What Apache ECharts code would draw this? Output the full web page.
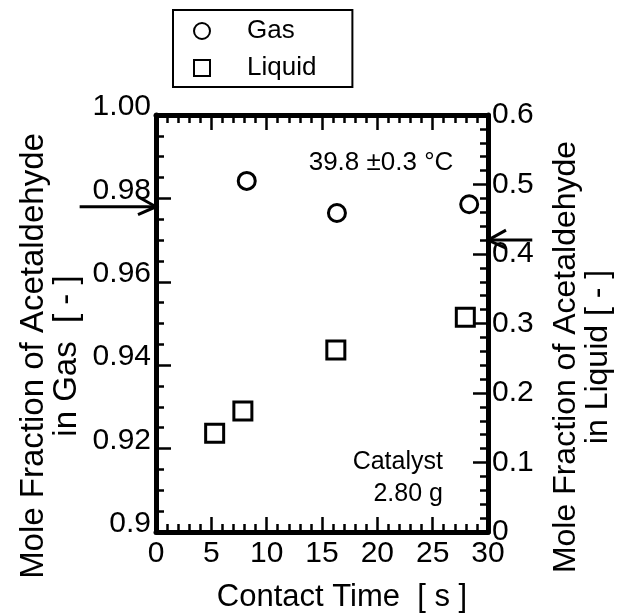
<!DOCTYPE html>
<html><head><meta charset="utf-8">
<script src="https://cdn.jsdelivr.net/npm/echarts@6/dist/echarts.min.js"></script>
<style>html,body{margin:0;padding:0;background:#fff}#c{width:629px;height:615px}</style>
</head><body><div id="c"></div>
<script>
// ---- data ----
const gasTime = [8.2, 16.35, 28.3];
const gasFraction = [0.9842, 0.9765, 0.9786];
const liquidTime = [5.3, 7.85, 16.25, 27.95];
const liquidFraction = [0.142, 0.174, 0.262, 0.309];
const seriesNames = ['Gas', 'Liquid'];
const xLabelTitle = 'Contact Time  [ s ]';
const leftTitle = 'Mole Fraction of Acetaldehyde\nin Gas  [ - ]';
const rightTitle = 'Mole Fraction of Acetaldehyde\nin Liquid [ - ]';
const tempText = '39.8 \u00b10.3 \u00b0C';
const catalystText = 'Catalyst\n2.80 g';
// arrows: [x start, x end, level]
const gasArrow = [-6.9, 0, 0.978];
const liquidArrow = [34.0, 30, 0.42];

const FONT = '"Liberation Sans", Arial, Helvetica, sans-serif';
const BLACK = '#000';

const chart = echarts.init(document.getElementById('c'), null, {renderer: 'canvas'});

function tickStyle(len, minorLen, minorSplit) {
  return {
    axisTick: {show: true, inside: true, length: len, lineStyle: {color: BLACK, width: 2.5}},
    minorTick: {show: true, splitNumber: minorSplit, length: minorLen, lineStyle: {color: BLACK, width: 2.5}},
    splitLine: {show: false},
    minorSplitLine: {show: false},
    axisLine: {show: true, onZero: false, lineStyle: {color: BLACK, width: 5}}
  };
}

const option = {
  backgroundColor: '#fff',
  animation: false,
  grid: {left: 156, right: 141, top: 115, bottom: 83, containLabel: false},
  legend: {
    data: seriesNames,
    orient: 'vertical',
    left: 173, top: 10,
    padding: [8, 36, 6, 20],
    itemGap: 11,
    itemWidth: 16, itemHeight: 16,
    borderColor: BLACK, borderWidth: 2, borderRadius: 0,
    textStyle: {fontFamily: FONT, fontSize: 26, lineHeight: 26, color: BLACK, padding: [0, 0, 0, 32]}
  },
  xAxis: [
    Object.assign({
      type: 'value', position: 'bottom', min: 0, max: 30, interval: 5,
      axisLabel: {fontFamily: FONT, fontSize: 30, color: BLACK, margin: 7}
    }, tickStyle(15, 8, 5)),
    Object.assign({
      type: 'value', position: 'top', min: 0, max: 30, interval: 5,
      axisLabel: {show: false}
    }, tickStyle(15, 8, 5))
  ],
  yAxis: [
    Object.assign({
      type: 'value', position: 'left', min: 0.9, max: 1.0, interval: 0.02,
      axisLabel: {
        fontFamily: FONT, fontSize: 30, color: BLACK, margin: 5,
        verticalAlign: 'bottom', lineHeight: 16,
        formatter: function (v) {
          if (Math.abs(v - 0.9) < 1e-9) return '0.9';
          return v.toFixed(2);
        }
      }
    }, tickStyle(15, 8, 4)),
    Object.assign({
      type: 'value', position: 'right', min: 0, max: 0.6, interval: 0.1,
      axisLabel: {
        fontFamily: FONT, fontSize: 30, color: BLACK, margin: 4,
        formatter: function (v) {
          if (Math.abs(v) < 1e-9) return '0';
          return v.toFixed(1);
        }
      }
    }, tickStyle(15, 8, 5))
  ],
  series: [
    {
      name: 'Gas', type: 'scatter', xAxisIndex: 0, yAxisIndex: 0,
      symbol: 'circle', symbolSize: 17,
      itemStyle: {color: '#fff', borderColor: BLACK, borderWidth: 3, opacity: 1},
      data: gasTime.map((t, i) => [t, gasFraction[i]])
    },
    {
      name: 'Liquid', type: 'scatter', xAxisIndex: 0, yAxisIndex: 1,
      symbol: 'rect', symbolSize: 18,
      itemStyle: {color: '#fff', borderColor: BLACK, borderWidth: 3, opacity: 1},
      data: liquidTime.map((t, i) => [t, liquidFraction[i]])
    }
  ]
};
chart.setOption(option);

function px(axisY, x, y) {
  return chart.convertToPixel({xAxisIndex: 0, yAxisIndex: axisY}, [x, y]);
}

function arrow(axisY, spec, dir) {
  const a = px(axisY, spec[0], spec[2]);
  const b = px(axisY, spec[1], spec[2]);
  const s = dir; // +1 points right, -1 points left
  return [
    {type: 'line', shape: {x1: a[0], y1: a[1], x2: b[0], y2: b[1]}, style: {stroke: BLACK, lineWidth: 3}},
    {type: 'polyline', shape: {points: [[b[0] - s * 18, b[1] - 10], [b[0], b[1]], [b[0] - s * 18, b[1] + 8]]},
      style: {stroke: BLACK, lineWidth: 3, fill: null}}
  ];
}

const tPos = px(0, 20.33, 0.9885);
const cPos = px(1, 25.93, 0.078);

chart.setOption({
  graphic: [
    {type: 'text', x: 342, y: 597, style: {text: xLabelTitle, font: '31px ' + FONT, fill: BLACK, align: 'center', verticalAlign: 'middle'}},
    {type: 'text', x: 50, y: 356, rotation: Math.PI / 2,
      style: {text: leftTitle, font: '33px ' + FONT, fill: BLACK, align: 'center', verticalAlign: 'middle', lineHeight: 33}},
    {type: 'text', x: 582, y: 357, rotation: Math.PI / 2,
      style: {text: rightTitle, font: '32px ' + FONT, fill: BLACK, align: 'center', verticalAlign: 'middle', lineHeight: 32}},
    {type: 'text', x: tPos[0], y: tPos[1], style: {text: tempText, font: '26px ' + FONT, fill: BLACK, align: 'center', verticalAlign: 'middle'}},
    {type: 'text', x: cPos[0], y: cPos[1], style: {text: catalystText, font: '25px ' + FONT, fill: BLACK, align: 'right', verticalAlign: 'middle', lineHeight: 32}}
  ].concat(arrow(0, gasArrow, 1)).concat(arrow(1, liquidArrow, -1))
});
</script>
</body></html>
